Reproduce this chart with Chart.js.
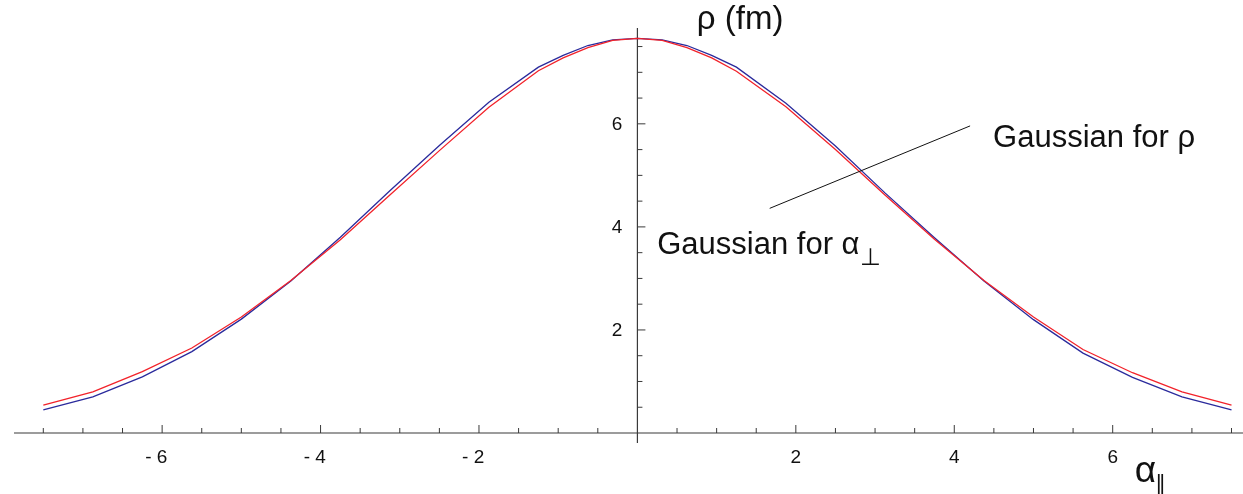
<!DOCTYPE html>
<html>
<head>
<meta charset="utf-8">
<script src="https://cdn.jsdelivr.net/npm/chart.js@4.4.0/dist/chart.umd.min.js"></script>
<style>
  html, body { margin: 0; padding: 0; background: #fff; }
  #wrap { width: 1243px; height: 494px; }
</style>
</head>
<body>
<div id="wrap"><canvas id="chart" width="1243" height="494"></canvas></div>
<script>
// sample points along alpha_parallel (denser around the peak)
const alphaPar = [-7.5, -6.875, -6.25, -5.625, -5.0, -4.375, -3.75, -3.125, -2.5, -1.875, -1.25, -0.9375,
  -0.625, -0.3125, 0, 0.3125, 0.625, 0.9375, 1.25, 1.875, 2.5, 3.125, 3.75, 4.375, 5.0, 5.625, 6.25, 6.875, 7.5];

// blue curve
const rhoGauss = [0.45, 0.70, 1.09, 1.58, 2.21, 2.95, 3.80, 4.70, 5.58, 6.42, 7.10, 7.33,
  7.52, 7.63, 7.66, 7.63, 7.52, 7.33, 7.10, 6.40, 5.57, 4.66, 3.79, 2.95, 2.20, 1.55, 1.08, 0.70, 0.45];

// red curve
const alphaGauss = [0.54, 0.80, 1.19, 1.65, 2.25, 2.96, 3.75, 4.62, 5.48, 6.32, 7.03, 7.28,
  7.48, 7.62, 7.66, 7.62, 7.48, 7.28, 7.02, 6.33, 5.50, 4.62, 3.76, 2.96, 2.25, 1.62, 1.17, 0.80, 0.54];

const xTickLabels = [-6, -4, -2, 2, 4, 6];
const yTickLabels = [2, 4, 6];

const FONT = '"Liberation Sans", Arial, Helvetica, sans-serif';

function toPoints(ys) {
  return alphaPar.map((x, i) => ({ x, y: ys[i] }));
}

// axes crossing at the origin, ticks pointing inward, Mathematica style
const originAxes = {
  id: 'originAxes',
  beforeDatasetsDraw(chart) {
    const { ctx, chartArea: a, scales: { x, y } } = chart;
    const x0 = x.getPixelForValue(0);
    const y0 = y.getPixelForValue(0);
    ctx.save();
    ctx.strokeStyle = '#3a3a3a';
    ctx.lineWidth = 1.2;
    ctx.beginPath();
    ctx.moveTo(a.left, y0); ctx.lineTo(a.right, y0);
    ctx.moveTo(x0, a.top); ctx.lineTo(x0, a.bottom);
    ctx.stroke();

    ctx.lineWidth = 1;
    ctx.beginPath();
    for (let v = -7.5; v <= 7.5; v += 0.5) {
      if (v === 0) continue;
      const len = Number.isInteger(v / 2) ? 8 : 5;
      const px = x.getPixelForValue(v);
      ctx.moveTo(px, y0); ctx.lineTo(px, y0 - len);
    }
    for (let v = 0.5; v <= 7.5; v += 0.5) {
      const len = Number.isInteger(v / 2) ? 8 : 5;
      const py = y.getPixelForValue(v);
      ctx.moveTo(x0, py); ctx.lineTo(x0 + len, py);
    }
    ctx.stroke();
    ctx.restore();
  },
  afterDraw(chart) {
    const { ctx, scales: { x, y } } = chart;
    const x0 = x.getPixelForValue(0);
    const y0 = y.getPixelForValue(0);
    ctx.save();
    ctx.fillStyle = '#111';
    ctx.font = '19px ' + FONT;
    ctx.textBaseline = 'middle';

    xTickLabels.forEach(v => {
      const px = x.getPixelForValue(v);
      const digit = String(Math.abs(v));
      const text = v < 0 ? '- ' + digit : digit;
      const dw = ctx.measureText(digit).width;
      ctx.textAlign = 'left';
      ctx.fillText(text, px + dw / 2 - ctx.measureText(text).width, y0 + 25);
    });
    ctx.textAlign = 'right';
    yTickLabels.forEach(v => {
      ctx.fillText(String(v), x0 - 15, y.getPixelForValue(v) + 1);
    });

    // axis titles
    ctx.textAlign = 'left';
    ctx.textBaseline = 'alphabetic';
    ctx.font = '33px ' + FONT;
    ctx.fillText('\u03c1 (fm)', x.getPixelForValue(0.75), y.getPixelForValue(7.85));

    ctx.font = '37px ' + FONT;
    const ax = x.getPixelForValue(6.28), ay = y.getPixelForValue(-0.96);
    ctx.fillText('\u03b1', ax, ay);
    ctx.font = '22px ' + FONT;
    ctx.fillText('\u2225', ax + 20, ay + 9);

    // curve annotations
    ctx.font = '31px ' + FONT;
    ctx.fillText('Gaussian for \u03c1', x.getPixelForValue(4.49), y.getPixelForValue(5.55));
    const gx = x.getPixelForValue(0.25), gy = y.getPixelForValue(3.48);
    const lead = 'Gaussian for \u03b1';
    ctx.fillText(lead, gx, gy);
    const lw = ctx.measureText(lead).width;
    ctx.font = '24px ' + FONT;
    ctx.fillText('\u22a5', gx + lw, gy + 11);

    ctx.strokeStyle = '#111';
    ctx.lineWidth = 1;
    ctx.beginPath();
    ctx.moveTo(x.getPixelForValue(1.67), y.getPixelForValue(4.36));
    ctx.lineTo(x.getPixelForValue(4.20), y.getPixelForValue(5.96));
    ctx.stroke();
    ctx.restore();
  }
};

new Chart(document.getElementById('chart'), {
  type: 'line',
  data: {
    datasets: [
      {
        label: 'alphaGauss',
        data: toPoints(alphaGauss),
        borderColor: '#f2222a',
        borderWidth: 1.3,
        pointRadius: 0,
        tension: 0,
        fill: false
      },
      {
        label: 'rhoGauss',
        data: toPoints(rhoGauss),
        borderColor: '#2a2a9c',
        borderWidth: 1.3,
        pointRadius: 0,
        tension: 0,
        fill: false
      }
    ]
  },
  options: {
    responsive: false,
    animation: false,
    layout: { padding: { left: 14, right: 0, top: 28, bottom: 51 } },
    plugins: {
      legend: { display: false },
      tooltip: { enabled: false }
    },
    scales: {
      x: { type: 'linear', min: -7.87, max: 7.645, display: false },
      y: { type: 'linear', min: -0.194, max: 7.86, display: false }
    }
  },
  plugins: [originAxes]
});
</script>
</body>
</html>
